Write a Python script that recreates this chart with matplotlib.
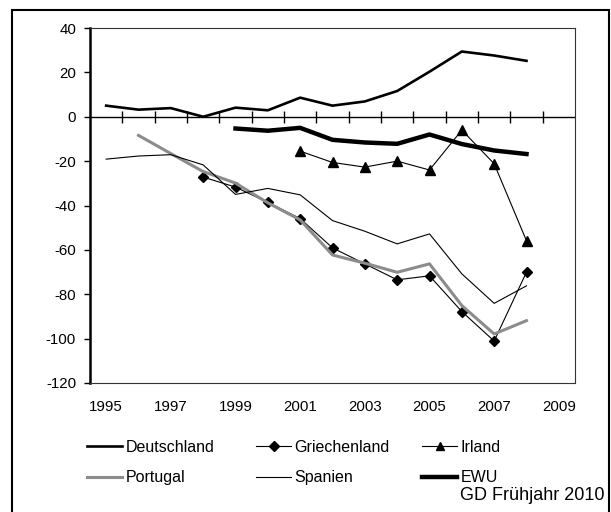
import matplotlib
matplotlib.use("Agg")
import matplotlib.pyplot as plt
from matplotlib.patches import Rectangle
import numpy as np

plt.rcParams['font.family'] = ['Liberation Sans', 'DejaVu Sans']
plt.rcParams['axes.unicode_minus'] = False

years = list(range(1995, 2010))
tick_labels = [str(y) for y in years[::2]]

deutschland_years = list(range(1995, 2009))
deutschland = [5.0, 3.2, 3.9, 0.0, 4.1, 2.9, 8.6, 5.0, 6.9, 11.6, 20.3, 29.4, 27.6, 25.2]

griechenland_years = list(range(1998, 2009))
griechenland = [-27.2, -31.7, -38.6, -45.9, -59.1, -66.3, -73.5, -71.7, -87.8, -101.1, -70.0]

irland_years = list(range(2001, 2009))
irland = [-15.5, -20.6, -22.7, -20.0, -24.0, -6.0, -21.2, -55.9]

portugal_years = list(range(1996, 2009))
portugal = [-8.4, -16.6, -24.7, -29.9, -38.8, -46.5, -62.3, -66.0, -70.1, -66.3, -85.1, -97.9, -91.9]

spanien_years = list(range(1995, 2009))
spanien = [-19.1, -17.7, -17.1, -21.7, -35.0, -32.3, -35.2, -46.8, -51.6, -57.3, -52.8, -70.8, -84.1, -76.2]

ewu_years = list(range(1999, 2009))
ewu = [-5.3, -6.3, -5.0, -10.4, -11.6, -12.2, -8.0, -12.3, -15.2, -16.8]

W, H = 611, 512
fig = plt.figure(figsize=(W / 100, H / 100), dpi=100)
ax = fig.add_axes([90 / W, 1 - 383 / H, (575 - 90) / W, (383 - 28) / H])

def idx(ys):
    return [years.index(y) for y in ys]

ax.plot(idx(deutschland_years), deutschland, color='black', lw=1.9, label='Deutschland',
        solid_joinstyle='round')
ax.plot(idx(griechenland_years), griechenland, color='black', lw=0.8, marker='D',
        markersize=5.5, label='Griechenland')
ax.plot(idx(irland_years), irland, color='black', lw=0.8, marker='^',
        markersize=7, label='Irland')
ax.plot(idx(portugal_years), portugal, color='#8c8c8c', lw=2.2, label='Portugal')
ax.plot(idx(spanien_years), spanien, color='black', lw=0.8, label='Spanien')
ax.plot(idx(ewu_years), ewu, color='black', lw=3.2, label='EWU', solid_joinstyle='round')

ax.set_xlim(-0.5, len(years) - 0.5)
ax.set_ylim(-120, 40)
ax.set_yticks(np.arange(-120, 41, 20))
ax.set_xticks(range(0, len(years), 2))
ax.set_xticklabels(tick_labels)
ax.tick_params(axis='x', length=0, pad=12, labelsize=10.8)
ax.tick_params(axis='y', length=4, width=1, direction='out', pad=6, labelsize=10.8)

# zero line with category boundary ticks
ax.axhline(0, color='black', lw=1, zorder=1)
bounds = np.arange(0.5, len(years) - 1, 1.0)
ax.plot(bounds, np.zeros_like(bounds), linestyle='none', marker='|', markersize=8,
        markeredgewidth=1, color='black', zorder=1)

for s in ['top', 'right', 'bottom']:
    ax.spines[s].set_linewidth(0.8)
    ax.spines[s].set_color('#333333')
ax.spines['left'].set_linewidth(1.8)
ax.spines['left'].set_color('black')

handles, labels = ax.get_legend_handles_labels()
hmap = dict(zip(labels, handles))
cols = [(['Deutschland', 'Portugal'], 87), (['Griechenland', 'Spanien'], 256), (['Irland', 'EWU'], 422)]
for names, x0 in cols:
    fig.legend([hmap[n] for n in names], names, loc='upper left',
               bbox_to_anchor=(x0 / W, 1 - 440 / H), frameon=False, fontsize=11.5,
               handlelength=2.2, handletextpad=0.2, borderpad=0, borderaxespad=0,
               labelspacing=0.95, markerscale=0.85)

fig.text(605 / W, 1 - 496 / H, 'GD Frühjahr 2010', ha='right', va='center', fontsize=13)

fig.patches.append(Rectangle((12 / W, -0.05), (609 - 12) / W, 1.05 - 10 / H,
                             transform=fig.transFigure, fill=False, edgecolor='black',
                             lw=1.5))

fig.savefig('out.png', dpi=100)
